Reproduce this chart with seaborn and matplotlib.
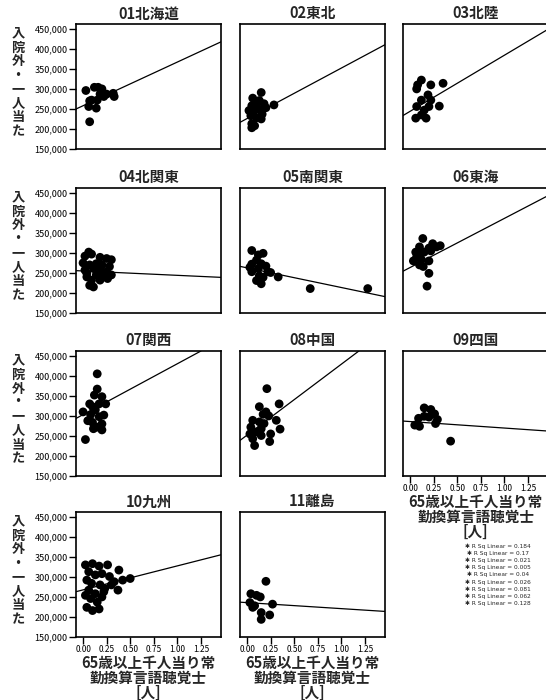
import matplotlib
matplotlib.use("Agg")
import matplotlib.pyplot as plt
import matplotlib.ticker as mticker
import pandas as pd
import seaborn as sns

# panel titles (regions)
regions = ["01北海道", "02東北", "03北陸", "04北関東", "05南関東", "06東海",
           "07関西", "08中国", "09四国", "10九州", "11離島"]

# x: 65歳以上千人当り常勤換算言語聴覚士, y: 入院外・一人当たり
x_01 = [0.03, 0.07, 0.06, 0.09, 0.12, 0.16, 0.15, 0.18, 0.14, 0.22, 0.25, 0.32, 0.33, 0.20, 0.07]
y_01 = [296000, 218000, 256000, 272000, 304000, 304000, 272000, 287000, 252000, 281000, 287000, 289000, 281000, 300000, 270000]

x_02 = [0.15, 0.06, 0.10, 0.05, 0.12, 0.06, 0.16, 0.04, 0.10, 0.15, 0.05, 0.08, 0.05, 0.285, 0.20, 0.13, 0.02, 0.18]
y_02 = [291000, 277000, 265000, 258000, 250000, 242000, 237000, 233000, 228000, 225000, 213000, 208000, 203000, 260000, 253000, 271000, 246000, 263000]

x_03 = [0.12, 0.08, 0.22, 0.35, 0.07, 0.19, 0.12, 0.22, 0.31, 0.07, 0.15, 0.06, 0.17, 0.12, 0.20]
y_03 = [322000, 310000, 310000, 314000, 300000, 285000, 272000, 272000, 257000, 256000, 247000, 227000, 227000, 235000, 256000]

x_04 = [0.06, 0.02, 0.09, 0.18, 0.25, 0.30, 0.00, 0.07, 0.14, 0.20, 0.28, 0.02, 0.11, 0.18, 0.25,
        0.30, 0.04, 0.09, 0.14, 0.20, 0.26, 0.07, 0.11, 0.04, 0.18]
y_04 = [302000, 292000, 297000, 289000, 286000, 283000, 275000, 270000, 273000, 270000, 266000, 257000, 261000, 257000, 253000,
        245000, 240000, 232000, 245000, 240000, 236000, 219000, 215000, 249000, 232000]

x_05 = [0.05, 0.17, 0.12, 0.10, 0.15, 0.05, 0.20, 0.12, 0.05, 0.22, 0.33, 0.13, 0.10, 0.15, 0.25, 0.67, 1.28, 0.03, 0.17]
y_05 = [306000, 299000, 295000, 282000, 273000, 272000, 267000, 261000, 253000, 253000, 240000, 243000, 231000, 223000, 251000, 211000, 211000, 264000, 239000]

x_06 = [0.135, 0.24, 0.10, 0.20, 0.28, 0.06, 0.15, 0.22, 0.07, 0.12, 0.20, 0.035, 0.10, 0.14, 0.20, 0.11, 0.32, 0.18]
y_06 = [336000, 323000, 315000, 312000, 315000, 302000, 302000, 305000, 290000, 283000, 280000, 280000, 270000, 266000, 249000, 296000, 318000, 217000]

x_07 = [0.15, 0.025, 0.00, 0.07, 0.12, 0.15, 0.20, 0.08, 0.13, 0.17, 0.22, 0.24, 0.10, 0.15, 0.20, 0.11, 0.20, 0.05, 0.10, 0.17]
y_07 = [405000, 241000, 310000, 330000, 352000, 367000, 348000, 303000, 315000, 298000, 302000, 330000, 284000, 272000, 280000, 268000, 265000, 288000, 323000, 330000]

x_08 = [0.21, 0.13, 0.34, 0.20, 0.17, 0.23, 0.06, 0.31, 0.13, 0.18, 0.04, 0.15, 0.35, 0.03, 0.10, 0.15, 0.25, 0.06, 0.24, 0.08]
y_08 = [368000, 323000, 330000, 310000, 304000, 300000, 289000, 289000, 285000, 281000, 272000, 268000, 267000, 255000, 260000, 251000, 255000, 243000, 236000, 226000]

x_09 = [0.15, 0.22, 0.26, 0.09, 0.20, 0.29, 0.05, 0.10, 0.27, 0.43, 0.15]
y_09 = [320000, 316000, 305000, 294000, 297000, 291000, 277000, 274000, 281000, 237000, 299000]

x_10 = [0.025, 0.10, 0.17, 0.26, 0.38, 0.06, 0.13, 0.20, 0.28, 0.33, 0.37, 0.50, 0.04, 0.09, 0.18,
        0.23, 0.06, 0.13, 0.20, 0.08, 0.15, 0.04, 0.10, 0.17, 0.025, 0.22, 0.30, 0.42]
y_10 = [330000, 333000, 327000, 330000, 317000, 313000, 305000, 308000, 301000, 288000, 267000, 296000, 292000, 284000, 280000,
        271000, 267000, 258000, 250000, 246000, 237000, 224000, 216000, 220000, 254000, 263000, 280000, 292000]

x_11 = [0.20, 0.04, 0.10, 0.14, 0.03, 0.08, 0.27, 0.15, 0.24, 0.15, 0.06]
y_11 = [289000, 258000, 254000, 250000, 236000, 228000, 232000, 211000, 205000, 194000, 224000]

xs = [x_01, x_02, x_03, x_04, x_05, x_06, x_07, x_08, x_09, x_10, x_11]
ys = [y_01, y_02, y_03, y_04, y_05, y_06, y_07, y_08, y_09, y_10, y_11]

# fit lines as drawn in the reference (intercept, slope)
fit_intercept = [258000, 226000, 244000, 254900, 262700, 263500, 303200, 252100, 285900, 267600, 235800]
fit_slope = [109000, 126000, 140000, -10900, -49100, 122600, 127000, 177000, -16200, 59900, -15000]

r2_labels = ["0.184", "0.17", "0.021", "0.005", "0.04", "0.026", "0.081", "0.062", "0.128"]

x_ticks = [0.00, 0.25, 0.50, 0.75, 1.00, 1.25]
y_ticks = [150000, 200000, 250000, 300000, 350000, 400000, 450000]

y_label = "入院外・一人当た"
x_label = "65歳以上千人当り常\n勤換算言語聴覚士\n[人]"

df = pd.concat(
    [pd.DataFrame({"region": r, "x": x, "y": y}) for r, x, y in zip(regions, xs, ys)],
    ignore_index=True,
)

sns.set_style("white")
plt.rcParams["font.family"] = ["Noto Sans CJK JP", "DejaVu Sans"]

W, H = 546, 700
fig = plt.figure(figsize=(W / 100, H / 100), dpi=100)

col_left = [76, 240, 403]
row_top = [24, 188, 351, 512]
ax_w, ax_h = 145, 125

for i, name in enumerate(regions):
    row, col = divmod(i, 3)
    l, t = col_left[col], row_top[row]
    ax = fig.add_axes([l / W, 1 - (t + ax_h) / H, ax_w / W, ax_h / H])
    sns.scatterplot(data=df[df["region"] == name], x="x", y="y", ax=ax,
                    color="black", s=40, edgecolor="none", legend=False)
    ax.axline((0, fit_intercept[i]), slope=fit_slope[i], color="black", lw=0.9)
    ax.set_xlim(-0.075, 1.463)
    ax.set_ylim(150000, 462000)
    ax.set_xlabel("")
    ax.set_ylabel("")
    ax.set_title(name, fontsize=10.5, fontweight="bold", pad=4)
    for sp in ax.spines.values():
        sp.set_color("black")
        sp.set_linewidth(1.2)
    ax.set_xticks(x_ticks)
    ax.set_yticks(y_ticks)
    ax.xaxis.set_major_formatter(mticker.FormatStrFormatter("%.2f"))
    ax.yaxis.set_major_formatter(mticker.StrMethodFormatter("{x:,.0f}"))

    if col == 0:
        ax.tick_params(axis="y", left=True, length=5, width=1, pad=1,
                       labelsize=6.5, colors="black")
        fig.text(18 / W, 1 - (t + ax_h / 2 - 4) / H, "\n".join(y_label),
                 ha="center", va="center", fontsize=9.5, fontweight="bold",
                 linespacing=1.0)
    else:
        ax.tick_params(axis="y", left=False, labelleft=False)

    if i >= 8:
        ax.tick_params(axis="x", bottom=True, length=5, width=1, pad=1,
                       labelsize=6, colors="black")
        ax.set_xlabel(x_label, fontsize=10.5, fontweight="bold", linespacing=0.95,
                      labelpad=0)
    else:
        ax.tick_params(axis="x", bottom=False, labelbottom=False)

# R squared legend in empty cell
for k, v in enumerate(r2_labels):
    fig.text(498 / W, 1 - (546 + k * 7.2) / H, f"✱ R Sq Linear = {v}",
             ha="center", va="center", fontsize=4.2, family=["DejaVu Sans"])

fig.savefig("out.png", dpi=100)
